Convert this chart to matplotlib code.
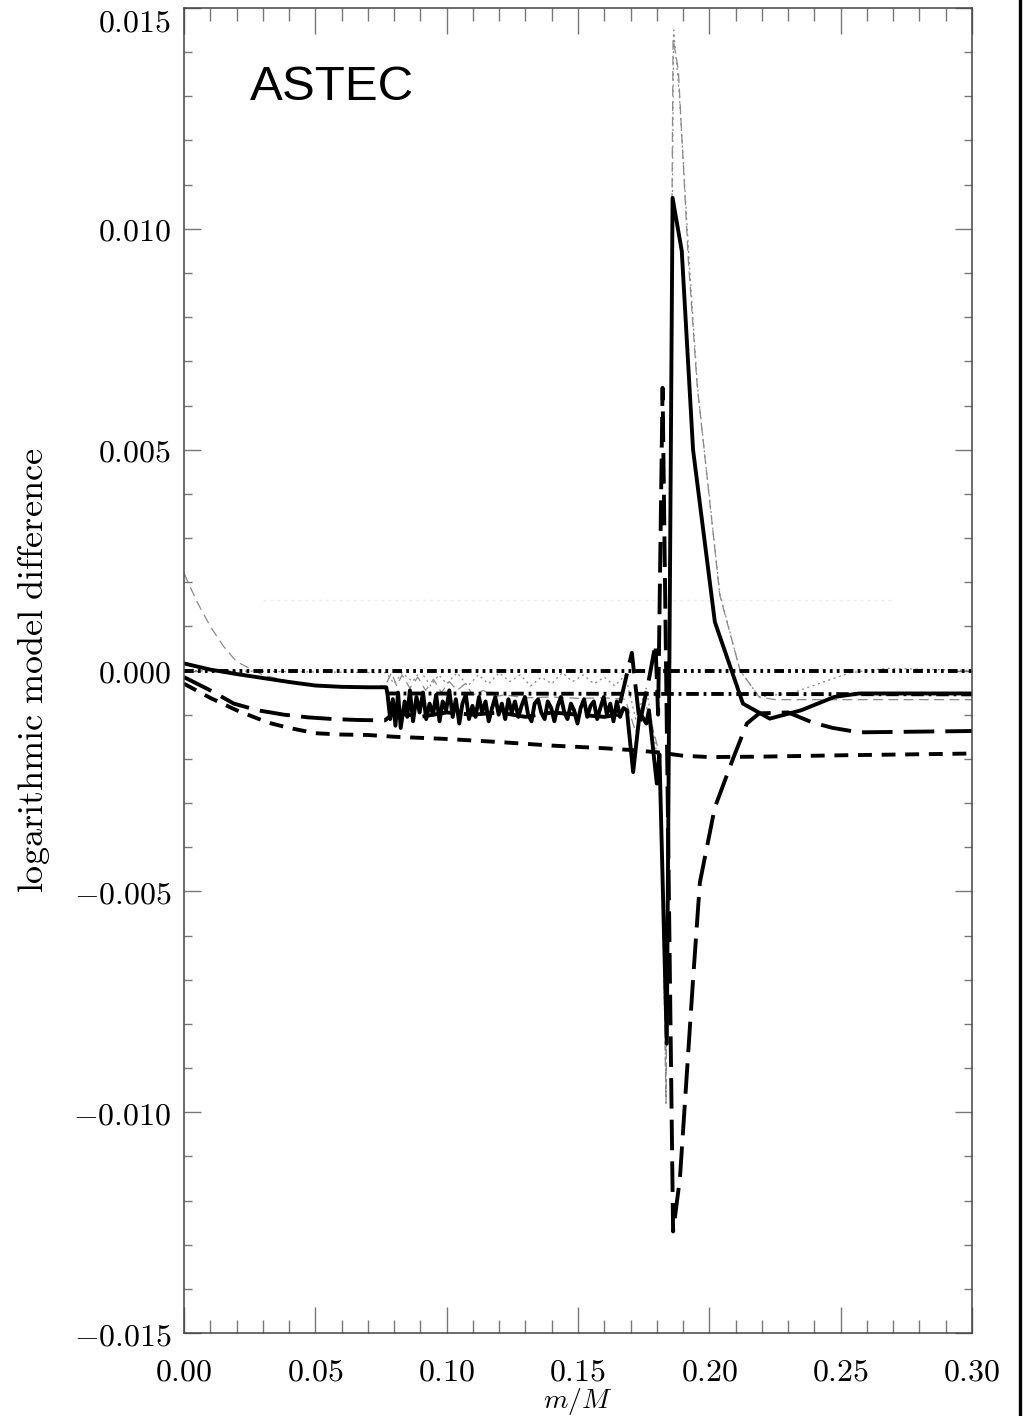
import numpy as np
import matplotlib
matplotlib.use("Agg")
import matplotlib.pyplot as plt
from matplotlib.ticker import MultipleLocator, FuncFormatter
from matplotlib.lines import Line2D

plt.rcParams['mathtext.fontset'] = 'cm'
plt.rcParams['lines.scale_dashes'] = False

# differences in units of 1e-3, against m/M
solid_x = [0.000, 0.010, 0.020, 0.030, 0.040, 0.050, 0.060, 0.070, 0.0770,
           0.0775, 0.0785, 0.0795, 0.0805, 0.0815, 0.0825, 0.0840, 0.0850, 0.0860, 0.0872,
           0.0885, 0.0897, 0.0910, 0.0922, 0.0935, 0.0948, 0.0960, 0.0973, 0.0985, 0.0998,
           0.1010, 0.1023, 0.1035, 0.1048, 0.1060, 0.1073, 0.1085, 0.1098, 0.1110, 0.1123,
           0.1135, 0.1148, 0.1160, 0.1173, 0.1185, 0.1198, 0.1210, 0.1223, 0.1235, 0.1248,
           0.1260, 0.1273, 0.1285, 0.1298, 0.1310, 0.1323, 0.1335, 0.1348, 0.1360, 0.1373,
           0.1385, 0.1398, 0.1410, 0.1423, 0.1435, 0.1448, 0.1460, 0.1473, 0.1485, 0.1498,
           0.1510, 0.1523, 0.1535, 0.1548, 0.1560, 0.1573, 0.1585, 0.1598, 0.1610, 0.1623,
           0.1635, 0.1648, 0.1660, 0.1673, 0.1686,
           0.1710, 0.1735, 0.1760, 0.1770, 0.1800, 0.1810, 0.1838, 0.1860, 0.1895, 0.1938,
           0.2021, 0.2128, 0.2230, 0.2350, 0.2475, 0.2570, 0.3000]
solid_y = [0.16, 0.02, -0.08, -0.17, -0.26, -0.34, -0.37, -0.38, -0.38,
           -0.55, -1.10, -0.65, -1.25, -0.50, -1.30, -0.70, -1.05, -0.45, -1.15,
           -0.60, -0.95, -0.50, -1.10, -0.75, -1.00, -0.55, -1.15, -0.70, -0.90,
           -0.45, -1.05, -0.65, -1.20, -0.75, -0.55, -1.10, -0.80, -1.05, -0.60,
           -0.95, -0.70, -1.15, -0.85, -0.60, -1.00, -0.75, -1.10, -0.65, -0.95,
           -0.70, -1.05, -0.80, -0.60, -1.00, -1.15, -0.75, -0.65, -0.95, -1.10,
           -0.70, -0.85, -1.15, -0.80, -0.60, -0.95, -1.10, -0.75, -0.90, -1.20,
           -0.85, -0.65, -1.05, -0.80, -0.70, -1.10, -0.85, -0.60, -1.00, -0.75,
           -1.15, -0.70, -1.05, -0.85, -0.90,
           -2.30, -0.95, -1.20, -0.90, -2.56, -1.90, -8.45, 10.70, 9.50, 5.00,
           1.10, -0.75, -1.09, -0.90, -0.60, -0.52, -0.52]

longdash_x = [0.000, 0.010, 0.019, 0.028, 0.038, 0.047, 0.057, 0.066, 0.0765,
              0.080, 0.090, 0.100, 0.110, 0.120, 0.130, 0.140, 0.150, 0.160, 0.165,
              0.1705, 0.1735, 0.1770, 0.1795, 0.1805, 0.1822, 0.1862, 0.1888, 0.1938,
              0.1964, 0.2021, 0.2090, 0.2143, 0.2190, 0.2300, 0.2394, 0.2470, 0.2570, 0.3000]
longdash_y = [-0.15, -0.45, -0.75, -0.90, -1.00, -1.06, -1.10, -1.12, -1.13,
              -0.95, -1.05, -0.95, -1.00, -0.95, -1.05, -0.95, -1.00, -1.05, -1.00,
              0.40, -1.20, -0.20, 0.60, -1.00, 6.40, -12.70, -11.50, -7.00,
              -4.80, -3.10, -2.00, -1.20, -0.97, -0.95, -1.18, -1.30, -1.40, -1.37]

shortdash_x = [0.000, 0.010, 0.020, 0.032, 0.040, 0.050, 0.060, 0.070, 0.080, 0.100,
               0.120, 0.140, 0.160, 0.170, 0.180, 0.190, 0.200, 0.220, 0.250, 0.300]
shortdash_y = [-0.30, -0.62, -0.90, -1.18, -1.30, -1.42, -1.45, -1.46, -1.50, -1.55,
               -1.62, -1.70, -1.76, -1.80, -1.85, -1.93, -1.96, -1.95, -1.92, -1.88]

zero_x = [0.000, 0.300]
zero_y = [0.00, 0.00]

dashdot_x = [0.077, 0.300]
dashdot_y = [-0.52, -0.54]

thindash_x = [0.000, 0.005, 0.010, 0.015, 0.020, 0.030, 0.040, 0.048, 0.060, 0.073, 0.077,
              0.079, 0.081, 0.083, 0.086, 0.089, 0.092, 0.095, 0.098, 0.101, 0.104,
              0.107, 0.110, 0.114, 0.118, 0.122, 0.130, 0.140, 0.150, 0.160, 0.168,
              0.172, 0.175, 0.178, 0.1815, 0.1835, 0.1862, 0.1882, 0.1920, 0.1953,
              0.2040, 0.2117, 0.2190, 0.2250, 0.3000]
thindash_y = [2.20, 1.55, 1.00, 0.55, 0.20, -0.10, -0.25, -0.34, -0.38, -0.40, -0.30,
              -0.05, -0.35, -0.10, -0.40, -0.15, -0.45, -0.20, -0.50, -0.25, -0.45,
              -0.30, -0.55, -0.45, -0.60, -0.55, -0.62, -0.60, -0.63, -0.62, -0.65,
              -1.40, -0.60, -1.20, -2.00, -9.80, 14.30, 13.60, 9.30, 6.50,
              1.70, 0.00, -0.60, -0.66, -0.66]

thindot_x = [0.000, 0.077, 0.080, 0.083, 0.087, 0.090, 0.094, 0.097, 0.100, 0.104,
             0.108, 0.112, 0.116, 0.120, 0.124, 0.128, 0.132, 0.136, 0.140, 0.144,
             0.148, 0.152, 0.156, 0.160, 0.164, 0.168, 0.172, 0.176, 0.179, 0.1815,
             0.1835, 0.1864, 0.1885, 0.1920, 0.1955, 0.2040, 0.2117, 0.2190, 0.2320,
             0.2535, 0.2675, 0.3000]
thindot_y = [0.00, -0.05, -0.30, -0.05, -0.25, -0.02, -0.35, -0.10, -0.30, -0.05,
             -0.35, -0.10, -0.30, -0.05, -0.25, -0.10, -0.35, -0.15, -0.30, -0.05,
             -0.25, -0.10, -0.30, -0.15, -0.35, -0.10, -1.10, -0.40, -1.50, -2.50,
             -9.60, 14.50, 13.10, 9.60, 6.40, 1.74, 0.00, -0.60, -0.50,
             -0.05, 0.05, 0.00]

faint_x = [0.030, 0.270]
faint_y = [1.60, 1.60]

y_ticks = [-0.015, -0.010, -0.005, 0.000, 0.005, 0.010, 0.015]
x_ticks = [0.00, 0.05, 0.10, 0.15, 0.20, 0.25, 0.30]


def scaled(v):
    return np.array(v) * 1e-3


fig = plt.figure(figsize=(10.23, 14.16), dpi=100)
ax = fig.add_axes([184 / 1023, 83 / 1416, 788 / 1023, 1325 / 1416])

ax.plot(faint_x, scaled(faint_y), color='#ececec', lw=1.0, dashes=(2, 3))
ax.plot(thindash_x, scaled(thindash_y), color='#8a8a8a', lw=0.9, dashes=(7, 4))
ax.plot(thindot_x, scaled(thindot_y), color='#8a8a8a', lw=0.9, dashes=(1.5, 2.5))
ax.plot(zero_x, scaled(zero_y), color='black', lw=2.8,
        dashes=(7, 3, 2, 3, 2, 3, 2, 3))
ax.plot(dashdot_x, scaled(dashdot_y), color='black', lw=2.8, dashes=(9, 3.5, 2, 3.5))
ax.plot(shortdash_x, scaled(shortdash_y), color='black', lw=2.8, dashes=(10, 7))
ax.plot(longdash_x, scaled(longdash_y), color='black', lw=2.8, dashes=(22, 8))
ax.plot(solid_x, scaled(solid_y), color='black', lw=2.8)

ax.set_xlim(0, 0.30)
ax.set_ylim(-0.015, 0.015)
ax.set_xticks(x_ticks)
ax.set_yticks(y_ticks)
ax.xaxis.set_minor_locator(MultipleLocator(0.01))
ax.yaxis.set_minor_locator(MultipleLocator(0.001))
ax.xaxis.set_major_formatter(FuncFormatter(lambda v, p: '$%.2f$' % v))
ax.yaxis.set_major_formatter(FuncFormatter(lambda v, p: '$%.3f$' % v))

ax.tick_params(which='both', direction='in', top=True, right=True,
               colors='#777777', labelcolor='black', width=1.0, labelsize=23)
ax.tick_params(axis='x', which='major', length=19, pad=17)
ax.tick_params(axis='x', which='minor', length=9.5)
ax.tick_params(axis='y', which='major', length=12, pad=9)
ax.tick_params(axis='y', which='minor', length=6)
for s in ax.spines.values():
    s.set_color('#444444')
    s.set_linewidth(1.1)

# top label would run off the figure, hang it below the tick instead
ax.yaxis.get_major_ticks()[-1].label1.set_verticalalignment('top')

ax.set_xlabel('$m/M$', fontsize=20)
ax.xaxis.set_label_coords(0.5, -0.0400)
ax.set_ylabel(r'$\mathrm{logarithmic\ model\ difference}$', fontsize=26)
ax.yaxis.set_label_coords(-0.168, 0.5)

ax.text(0.084, 0.9306, 'ASTEC', transform=ax.transAxes, family='Liberation Sans',
        fontsize=35.5, va='baseline', ha='left')

fig.add_artist(Line2D([1020 / 1023, 1020 / 1023], [0, 1], color='black', lw=2.4))

fig.savefig('out.png', dpi=100)
